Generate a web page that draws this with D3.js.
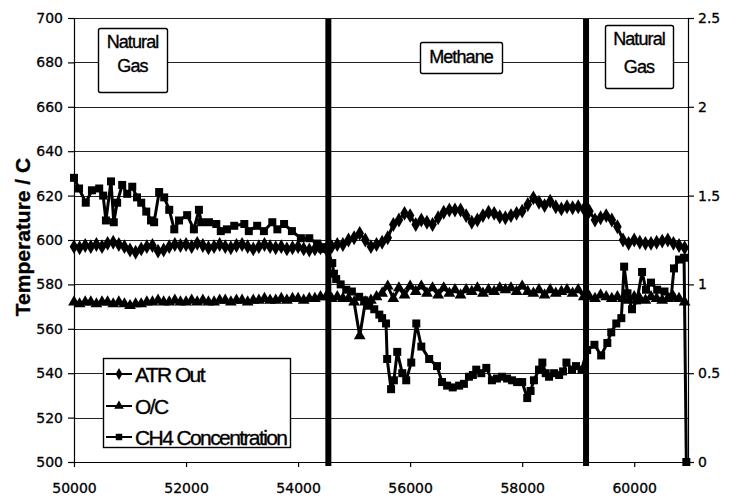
<!DOCTYPE html>
<html>
<head>
<meta charset="utf-8">
<script src="https://cdn.jsdelivr.net/npm/d3@7/dist/d3.min.js"></script>
<style>
  body { margin: 0; background: #fff; }
  svg { display: block; }
  .axis text { font-family: "DejaVu Sans", sans-serif; font-size: 14px; fill: #000; stroke: #000; stroke-width: 0.3px; }
  .axis path, .axis line { stroke: #000; stroke-width: 1.2px; }
  .label { font-family: "Liberation Sans", Arial, sans-serif; fill: #000; stroke: #000; stroke-width: 0.35px; }
</style>
</head>
<body>
<div id="chart-mount"></div>
<script>
var WIDTH = 737;
var HEIGHT = 499;
var LEFT = 74, RIGHT = 688, TOP = 18, BOTTOM = 462;

// axis ticks
var timeTicks = [50000, 52000, 54000, 56000, 58000, 60000];
var tempTicks = [500, 520, 540, 560, 580, 600, 620, 640, 660, 680, 700];
var ratioTicks = [0, 0.5, 1, 1.5, 2, 2.5];

// fuel switch times and phase names
var switchTimes = [54540, 59140];
var phaseNames = [['Natural', 'Gas'], ['Methane'], ['Natural', 'Gas']];

var seriesNames = ['ATR Out', 'O/C', 'CH4 Concentration'];

// ATR Out and O/C share the logging times
var sampleTime = [
  50000, 50100, 50200, 50300, 50400, 50500, 50600, 50700, 50800, 50900,
  51000, 51100, 51200, 51300, 51400, 51500, 51600, 51700, 51800, 51900,
  52000, 52100, 52200, 52300, 52400, 52500, 52600, 52700, 52800, 52900,
  53000, 53100, 53200, 53300, 53400, 53500, 53600, 53700, 53800, 53900,
  54000, 54100, 54200, 54300, 54400, 54500, 54600, 54700, 54800, 54900,
  55000, 55100, 55200, 55300, 55400, 55500, 55600, 55700, 55800, 55900,
  56000, 56100, 56200, 56300, 56400, 56500, 56600, 56700, 56800, 56900,
  57000, 57100, 57200, 57300, 57400, 57500, 57600, 57700, 57800, 57900,
  58000, 58100, 58200, 58300, 58400, 58500, 58600, 58700, 58800, 58900,
  59000, 59100, 59200, 59300, 59400, 59500, 59600, 59700, 59800, 59900,
  60000, 60100, 60200, 60300, 60400, 60500, 60600, 60700, 60800, 60900
];

var atrOut = [
  597, 596.5, 597.5, 597, 598, 597, 598.5, 599, 598, 597,
  595.5, 594.5, 596, 597, 597.5, 595, 595.5, 597, 598, 597.5,
  598, 597, 598.5, 597.5, 596.5, 597, 598, 597, 596.5, 597.5,
  598, 597, 596, 597, 598, 597, 596.5, 597, 596, 596.5,
  597, 596, 595.5, 596, 596.5, 596, 597, 598, 598, 600,
  601, 603, 600, 597, 598, 599, 601, 607, 609, 612,
  611, 607, 609, 608, 607, 610, 612.5, 613.5, 613.5, 613.5,
  611, 608, 609, 611, 612.5, 612, 610.5, 610, 611, 612,
  613, 616, 619, 617, 615.5, 617.5, 615, 614, 615, 614.5,
  615, 614, 613, 609, 610, 611, 609, 606, 600, 598.5,
  600, 599, 598.5, 598.5, 599, 599.5, 600, 598.5, 597.5, 596.5
];

var oxygenCarbon = [
  0.90, 0.89, 0.90, 0.90, 0.89, 0.90, 0.90, 0.89, 0.90, 0.89,
  0.88, 0.89, 0.89, 0.90, 0.90, 0.91, 0.90, 0.90, 0.91, 0.90,
  0.90, 0.91, 0.90, 0.91, 0.90, 0.90, 0.91, 0.91, 0.90, 0.91,
  0.91, 0.90, 0.91, 0.91, 0.92, 0.91, 0.91, 0.92, 0.91, 0.92,
  0.92, 0.91, 0.92, 0.92, 0.93, 0.93, 0.92, 0.93, 0.92, 0.92,
  0.90, 0.71, 0.90, 0.91, 0.93, 0.95, 0.99, 0.92, 0.98, 0.94,
  0.99, 0.96, 0.99, 0.95, 0.98, 0.94, 0.98, 0.95, 0.97, 0.94,
  0.97, 0.96, 0.98, 0.95, 0.97, 0.96, 0.98, 0.97, 0.98, 0.96,
  0.99, 0.96, 0.95, 0.97, 0.94, 0.97, 0.95, 0.96, 0.97, 0.95,
  0.97, 0.93, 0.93, 0.92, 0.94, 0.93, 0.92, 0.93, 0.92, 0.91,
  0.93, 0.92, 0.91, 0.93, 0.92, 0.91, 0.92, 0.93, 0.92, 0.90
];

var ch4Time = [
  50000, 50090, 50210, 50320, 50450, 50520, 50570, 50660, 50710, 50770,
  50860, 50950, 51040, 51125, 51200, 51290, 51375, 51430, 51520, 51610,
  51700, 51790, 51875, 52020, 52140, 52230, 52270, 52410, 52540, 52620,
  52730, 52860, 53040, 53120, 53270, 53390, 53540, 53630, 53750, 53890,
  54050, 54200, 54340, 54430, 54500, 54610, 54640, 54680, 54760, 54860,
  54960, 55090, 55180, 55270, 55360, 55450, 55500, 55570, 55590, 55660,
  55710, 55770, 55860, 55930, 56020, 56110, 56200, 56340, 56480, 56570,
  56660, 56760, 56875, 56960, 57050, 57120, 57180, 57270, 57360, 57460,
  57550, 57640, 57730, 57820, 57910, 58000, 58090, 58150, 58210, 58300,
  58360, 58420, 58480, 58570, 58660, 58730, 58790, 58890, 58960, 59060,
  59160, 59290, 59410, 59520, 59590, 59680, 59770, 59820, 59880, 59960,
  60050, 60140, 60210, 60300, 60410, 60540, 60660, 60710, 60800, 60890,
  60930
];

var ch4Conc = [
  1.60, 1.54, 1.46, 1.53, 1.54, 1.50, 1.36, 1.58, 1.35, 1.46,
  1.56, 1.51, 1.55, 1.49, 1.46, 1.41, 1.36, 1.35, 1.52, 1.49,
  1.42, 1.31, 1.36, 1.39, 1.31, 1.42, 1.35, 1.35, 1.34, 1.30,
  1.31, 1.33, 1.34, 1.30, 1.33, 1.30, 1.35, 1.31, 1.34, 1.30,
  1.26, 1.26, 1.23, 1.20, 1.21, 1.12, 1.06, 1.03, 1.00, 0.97,
  0.96, 0.93, 0.91, 0.88, 0.86, 0.83, 0.81, 0.78, 0.58, 0.41,
  0.46, 0.62, 0.50, 0.46, 0.56, 0.78, 0.65, 0.58, 0.54, 0.45,
  0.43, 0.42, 0.43, 0.44, 0.48, 0.49, 0.52, 0.50, 0.53, 0.46,
  0.47, 0.48, 0.47, 0.46, 0.45, 0.45, 0.36, 0.40, 0.46, 0.52,
  0.56, 0.50, 0.48, 0.50, 0.49, 0.51, 0.56, 0.52, 0.54, 0.52,
  0.63, 0.66, 0.60, 0.67, 0.73, 0.78, 0.81, 1.10, 0.95, 0.86,
  0.91, 1.07, 0.97, 1.01, 0.97, 0.96, 0.93, 1.09, 1.14, 1.15,
  0
];

var $svg = d3.select('#chart-mount').append('svg')
  .attr('width', WIDTH)
  .attr('height', HEIGHT);

var x = d3.scaleLinear().domain([50000, 60960]).range([LEFT, RIGHT]);
var yTemp = d3.scaleLinear().domain([500, 700]).range([BOTTOM, TOP]);
var yRatio = d3.scaleLinear().domain([0, 2.5]).range([BOTTOM, TOP]);

function drawGrid () {
  $svg.append('g')
    .selectAll('line')
      .data(tempTicks)
      .enter()
        .append('line')
        .attr('x1', LEFT)
        .attr('x2', RIGHT)
        .attr('y1', function (d) { return Math.round(yTemp(d)) + 0.5; })
        .attr('y2', function (d) { return Math.round(yTemp(d)) + 0.5; })
        .attr('stroke', '#222')
        .attr('stroke-width', 1.1);
}

function drawAxes () {
  $svg.append('g')
    .attr('class', 'axis')
    .attr('transform', 'translate(' + LEFT + ',0)')
    .call(d3.axisLeft(yTemp).tickValues(tempTicks).tickSize(6).tickSizeOuter(0).tickPadding(5));

  $svg.append('g')
    .attr('class', 'axis')
    .attr('transform', 'translate(' + RIGHT + ',0)')
    .call(d3.axisRight(yRatio).tickValues(ratioTicks).tickSize(6).tickSizeOuter(0).tickPadding(4)
      .tickFormat(function (d) { return String(d); }));

  $svg.append('g')
    .attr('class', 'axis')
    .attr('transform', 'translate(0,' + BOTTOM + ')')
    .call(d3.axisBottom(x).tickValues(timeTicks).tickSize(5).tickSizeOuter(0).tickPadding(16)
      .tickFormat(d3.format('d')));

  $svg.append('text')
    .attr('class', 'label')
    .attr('transform', 'translate(30,237) rotate(-90)')
    .attr('text-anchor', 'middle')
    .attr('font-size', 21)
    .attr('font-weight', 'bold')
    .text('Temperature / C');
}

function drawSeries (times, values, yScale, symbolType, size) {
  var points = times.map(function (t, i) { return [t, values[i]]; });
  var line = d3.line()
    .x(function (d) { return x(d[0]); })
    .y(function (d) { return yScale(d[1]); });

  var $g = $svg.append('g');
  $g.append('path')
    .datum(points)
    .attr('d', line)
    .attr('fill', 'none')
    .attr('stroke', '#000')
    .attr('stroke-width', 3);

  $g.selectAll('path.marker')
    .data(points)
    .enter()
      .append('path')
      .attr('class', 'marker')
      .attr('d', d3.symbol().type(symbolType).size(size))
      .attr('transform', function (d) {
        return 'translate(' + x(d[0]) + ',' + yScale(d[1]) + ')';
      })
      .attr('fill', '#000');
}

function drawSwitches () {
  $svg.append('g')
    .selectAll('line')
      .data(switchTimes)
      .enter()
        .append('line')
        .attr('x1', function (d) { return x(d); })
        .attr('x2', function (d) { return x(d); })
        .attr('y1', TOP + 1)
        .attr('y2', BOTTOM + 4)
        .attr('stroke', '#000')
        .attr('stroke-width', 6);
}

function drawPhaseBox (lines, bx, by, bw, bh, baselines) {
  var $g = $svg.append('g');
  $g.append('rect')
    .attr('x', bx + 0.5)
    .attr('y', by + 0.5)
    .attr('width', bw)
    .attr('height', bh)
    .attr('rx', 2)
    .attr('fill', '#fff')
    .attr('stroke', '#000')
    .attr('stroke-width', 1.4);
  $g.selectAll('text')
    .data(lines)
    .enter()
      .append('text')
      .attr('class', 'label')
      .attr('x', bx + bw / 2)
      .attr('y', function (d, i) { return baselines[i]; })
      .attr('text-anchor', 'middle')
      .attr('font-size', 18)
      .style('letter-spacing', '-0.9px')
      .text(function (d) { return d; });
}

function drawLegend () {
  var symbols = [d3.symbolDiamond, d3.symbolTriangle, d3.symbolSquare];
  var sizes = [40, 40, 42];
  var baselines = [382, 414, 445];

  var $g = $svg.append('g');
  $g.append('rect')
    .attr('x', 103.5)
    .attr('y', 358.5)
    .attr('width', 187)
    .attr('height', 89)
    .attr('fill', '#fff')
    .attr('stroke', '#000')
    .attr('stroke-width', 1.4);

  var $item = $g.selectAll('g.item')
    .data(seriesNames)
    .enter()
      .append('g')
      .attr('class', 'item')
      .attr('transform', function (d, i) { return 'translate(0,' + baselines[i] + ')'; });

  $item.append('line')
    .attr('x1', 106)
    .attr('x2', 132)
    .attr('y1', -8)
    .attr('y2', -8)
    .attr('stroke', '#000')
    .attr('stroke-width', 2);

  $item.append('path')
    .attr('d', function (d, i) { return d3.symbol().type(symbols[i]).size(sizes[i])(); })
    .attr('transform', 'translate(119,-8)')
    .attr('fill', '#000');

  $item.append('text')
    .attr('class', 'label')
    .attr('x', 135)
    .attr('font-size', 21)
    .style('letter-spacing', '-1.6px')
    .text(function (d) { return d; });
}

drawGrid();
drawAxes();
drawSeries(sampleTime, atrOut, yTemp, d3.symbolDiamond, 64);
drawSeries(sampleTime, oxygenCarbon, yRatio, d3.symbolTriangle, 60);
drawSeries(ch4Time, ch4Conc, yRatio, d3.symbolSquare, 64);
drawSwitches();
drawPhaseBox(phaseNames[0], 98, 28, 69, 64, [48, 72]);
drawPhaseBox(phaseNames[1], 420, 42, 82, 31, [63]);
drawPhaseBox(phaseNames[2], 605, 25, 68, 63, [45, 73]);
drawLegend();
</script>
</body>
</html>
